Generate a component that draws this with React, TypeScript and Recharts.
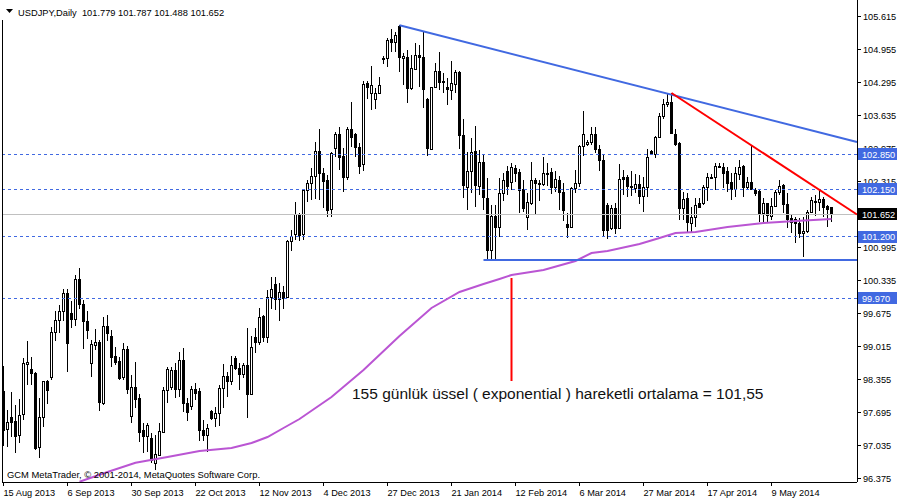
import React from 'react';
import { ComposedChart, Bar, Line, XAxis, YAxis, ReferenceLine } from 'recharts';

const opens = [98.115,97.355,97.595,97.515,97.235,97.655,98.655,98.555,98.475,96.995,97.595,98.315,98.395,99.295,99.535,99.715,100.075,99.675,99.555,100.355,99.855,99.515,98.675,99.035,99.095,97.875,99.415,99.215,98.815,98.715,98.395,98.955,97.615,98.195,97.975,97.335,97.215,97.175,96.675,96.835,97.295,98.135,98.195,98.535,98.155,98.735,97.875,97.815,98.155,98.115,97.335,97.235,97.715,97.575,97.675,98.175,98.415,98.315,98.775,98.575,98.455,98.635,98.055,99.195,99.095,99.615,99.195,99.995,100.255,99.955,100.095,99.995,101.115,101.255,101.635,101.255,102.135,102.275,102.415,102.915,102.475,102.335,101.755,102.975,103.255,102.815,102.395,103.355,103.255,102.995,102.655,104.275,104.075,103.955,104.075,104.775,104.775,105.155,105.095,105.415,104.775,104.795,104.175,104.555,104.835,104.795,103.955,102.955,104.195,104.515,104.315,104.195,104.135,104.255,104.495,103.235,102.195,102.515,102.915,102.215,102.695,101.975,100.935,101.615,101.395,102.075,102.515,102.295,102.575,102.495,102.155,101.595,101.875,102.335,102.275,102.255,102.475,102.495,102.195,102.335,102.095,101.455,101.395,102.175,102.275,103.015,103.055,103.095,103.255,102.955,102.735,101.835,101.375,101.775,101.375,102.395,102.395,102.215,102.175,102.255,102.015,102.195,102.915,102.855,103.195,103.615,103.855,103.895,103.255,103.075,101.775,101.975,101.475,101.595,101.875,101.875,102.195,102.395,102.395,102.615,102.595,102.515,102.295,102.155,102.455,102.615,102.195,102.295,102.135,102.115,101.675,101.875,101.615,101.815,102.095,102.235,101.855,101.575,101.555,101.475,101.275,101.315,101.695,101.915,101.895,101.955,101.815,101.779];
const highs = [98.615,97.735,98.095,97.835,97.955,98.775,99.115,98.795,98.495,97.975,98.315,98.33,99.395,99.715,99.835,100.155,100.155,99.915,100.435,100.575,99.935,99.715,99.135,99.355,99.135,99.595,99.635,99.335,98.995,98.795,99.075,99.015,98.435,98.695,98.055,97.475,97.475,97.275,97.235,97.475,98.195,98.595,98.595,98.675,98.895,98.975,97.975,98.215,98.275,98.175,97.535,97.455,97.73,97.795,98.235,98.655,98.495,98.815,98.815,98.675,98.675,99.375,99.215,99.375,99.775,99.635,100.135,100.395,100.395,100.275,100.215,101.135,101.335,101.895,101.675,102.155,102.335,102.575,103.095,103.355,102.575,102.435,102.895,103.295,103.395,102.975,103.395,103.895,103.275,103.075,104.315,104.315,104.615,104.175,104.395,104.815,105.175,105.355,105.295,105.43,104.875,104.935,104.835,105.075,105.035,105.315,103.97,104.2,104.675,104.895,104.475,104.375,104.715,104.535,104.51,103.555,102.895,103.175,103.415,102.935,102.835,102.375,101.835,101.835,102.375,102.475,102.615,102.675,102.635,102.555,102.335,102.075,102.695,102.375,102.335,102.795,102.675,102.575,102.515,102.415,102.275,101.675,102.195,102.535,103.035,103.715,103.135,103.395,103.395,103.035,102.835,101.875,101.835,101.875,102.655,102.535,102.435,102.515,102.455,102.435,102.395,102.955,102.935,103.215,103.675,103.955,104.055,104.075,103.355,103.095,102.095,102.075,101.795,101.975,101.975,102.235,102.475,102.455,102.675,102.675,102.675,102.595,102.475,102.595,102.735,102.635,102.395,103.035,102.175,102.155,101.975,101.885,101.975,102.135,102.335,102.255,102.075,101.635,101.595,101.575,101.595,101.735,101.995,102.035,102.135,101.995,101.835,101.787];
const lows = [97.015,96.995,97.195,96.875,97.075,97.535,98.235,98.235,96.935,96.775,97.395,97.855,98.335,99.115,99.275,99.515,98.495,99.375,99.415,99.755,98.955,99.155,98.395,98.935,97.715,97.835,99.115,98.595,98.635,98.335,98.335,98.055,97.475,97.775,97.095,96.875,96.895,96.675,96.535,96.815,97.28,97.875,98.135,97.975,97.995,97.695,97.515,97.735,97.935,97.115,97.115,96.895,97.535,97.395,97.415,97.775,97.995,98.235,98.535,98.135,98.375,97.575,98.035,98.875,99.035,99.095,99.075,99.755,99.735,99.515,99.755,99.975,100.915,101.135,101.115,101.135,101.895,101.935,101.955,101.935,101.775,101.595,101.595,102.795,102.535,102.095,102.335,102.995,102.795,102.455,102.515,103.955,103.735,103.755,104.055,104.655,104.595,104.895,104.895,104.495,104.235,103.875,104.135,104.535,104.195,103.775,102.815,102.935,104.175,104.135,104.075,103.835,103.935,104.075,102.955,101.975,101.735,102.075,101.795,102.035,101.735,100.735,100.715,100.735,101.195,101.915,102.035,102.135,102.295,101.675,101.695,101.335,101.835,101.635,101.915,102.215,102.215,102.055,102.095,101.735,101.515,101.175,101.38,102.075,102.195,102.815,103.015,103.035,102.875,102.515,101.195,101.155,101.335,101.255,101.36,102.035,101.995,102.015,102.075,101.855,101.695,101.995,102.835,102.775,103.175,103.555,103.795,103.255,103.015,101.535,101.535,101.295,101.295,101.395,101.79,101.835,101.915,102.37,102.135,102.58,102.175,102.095,101.935,101.995,102.335,101.995,102.135,102.135,102.015,101.495,101.495,101.475,101.535,101.795,102.035,101.675,101.375,101.275,101.075,101.175,100.795,101.275,101.675,101.615,101.715,101.595,101.395,101.488];
const closes = [97.335,97.495,97.495,97.215,97.635,98.675,98.695,98.475,96.975,97.595,98.315,98.135,99.295,99.535,99.715,100.075,99.075,99.555,100.355,99.855,99.515,99.335,99.055,99.095,97.895,99.415,99.275,98.795,98.695,98.375,98.955,98.155,98.195,97.955,97.295,97.215,97.435,96.735,96.855,97.315,98.135,98.555,98.535,98.155,98.735,97.875,97.695,98.155,98.075,97.335,97.235,97.375,97.575,97.675,98.175,98.415,98.315,98.635,98.575,98.455,98.635,98.055,98.995,99.095,99.595,99.195,99.995,100.155,99.955,100.095,99.975,101.115,101.215,101.655,101.235,102.135,102.275,102.415,102.915,102.475,102.315,101.735,102.875,103.255,102.795,102.395,103.355,103.195,102.995,102.615,104.255,104.195,104.235,104.075,104.235,104.755,105.135,105.095,105.235,104.795,104.815,104.175,104.575,104.835,104.795,104.155,102.975,104.195,104.515,104.295,104.295,104.155,104.275,104.495,103.235,102.235,102.515,102.895,102.235,102.695,101.995,100.935,101.615,101.395,102.075,102.335,102.215,102.595,102.475,102.135,101.775,101.895,102.335,102.275,102.255,102.475,102.455,102.195,102.355,102.095,101.735,101.395,102.175,102.275,103.015,103.255,103.095,103.255,102.955,102.735,101.335,101.335,101.775,101.375,102.355,102.355,102.215,102.195,102.255,102.015,102.195,102.795,102.855,103.195,103.615,103.855,103.895,103.275,103.055,101.775,101.955,101.495,101.595,101.835,101.795,102.195,102.395,102.375,102.615,102.595,102.475,102.275,102.155,102.475,102.595,102.195,102.295,102.155,102.075,101.675,101.875,101.635,101.815,102.095,102.215,101.855,101.555,101.495,101.475,101.275,101.315,101.695,101.935,101.895,101.955,101.795,101.755,101.652];

const emaIndex = [19,26,33,41,49,57,62,66,70,74,82,90,99,107,114,120,124,127,135,143,147,151,159,164,168,173,181,190,198,207];
const emaValues = [96.3,96.495,96.68,96.795,96.915,96.975,97.075,97.195,97.375,97.555,97.995,98.535,99.215,99.775,100.095,100.255,100.355,100.435,100.535,100.715,100.875,100.915,101.055,101.175,101.275,101.295,101.395,101.475,101.515,101.555];

const dateTickIndex = [0,16,32,48,64,80,96,112,128,144,160,176,192];
const dateLabels = ['15 Aug 2013','6 Sep 2013','30 Sep 2013','22 Oct 2013','12 Nov 2013','4 Dec 2013','27 Dec 2013','21 Jan 2014','12 Feb 2014','6 Mar 2014','27 Mar 2014','17 Apr 2014','9 May 2014'];
const priceTicks = [105.615,104.955,104.295,103.635,102.975,102.315,101.655,100.995,100.335,99.675,99.015,98.355,97.695,97.035,96.375];
const levelLines = [102.85,102.15,101.2,99.97];
const lastPrice = 101.652;
const tagValues = [102.85,102.15,101.652,101.2,99.97];

const blueTrend = [{ x: 99, y: 105.43 }, { x: 213.375, y: 103.095 }];
const redTrend = [{ x: 167, y: 104.075 }, { x: 213.375, y: 101.645 }];
const supportLine = [{ x: 120, y: 100.735 }, { x: 213.375, y: 100.735 }];
const pointerLine = [{ x: 127, y: 100.375 }, { x: 127, y: 98.315 }];

const titleText = 'USDJPY,Daily  101.779 101.787 101.488 101.652';
const copyrightText = 'GCM MetaTrader, \u00A9 2001-2014, MetaQuotes Software Corp.';
const noteText = '155 günlük üssel ( exponential ) hareketli ortalama = 101,55';

const FONT = '"Liberation Sans", Arial, sans-serif';
const BLUE = '#4169E1';
const DOMAIN_Y: [number, number] = [96.295, 105.935];
const allYTicks = [...priceTicks, ...tagValues];

const data = opens.map((o, i) => {
  const k = emaIndex.indexOf(i);
  return {
    i,
    o,
    h: highs[i],
    l: lows[i],
    c: closes[i],
    range: [lows[i], highs[i]],
    ema: k >= 0 ? emaValues[k] : null,
  };
});

const Candle = (props: any) => {
  const { x, y, width, height, payload } = props;
  if (x == null || payload == null) return null;
  const top = Math.min(y, y + height);
  const hgt = Math.abs(height);
  const { o, h, l, c } = payload;
  const rng = h - l;
  const py = (v: number) => (rng > 0 ? top + ((h - v) / rng) * hgt : top);
  const cx = x + width / 2;
  const bTop = py(Math.max(o, c));
  const bBot = py(Math.min(o, c));
  const bull = c >= o;
  const bh = Math.max(bBot - bTop, 1);
  return (
    <g shapeRendering="crispEdges">
      <line x1={cx} x2={cx} y1={top} y2={top + hgt} stroke="#000" strokeWidth={1} />
      {bull ? (
        <rect x={cx - 1} y={bTop} width={2} height={bh} fill="#fff" stroke="#000" strokeWidth={1} />
      ) : (
        <rect x={cx - 1.5} y={bTop - 0.5} width={3} height={bh + 1} fill="#000" />
      )}
    </g>
  );
};

const XTick = (props: any) => {
  const { x, y, payload } = props;
  const k = dateTickIndex.indexOf(payload.value);
  return (
    <g>
      <line x1={x} x2={x} y1={y} y2={y + 4} stroke="#000" shapeRendering="crispEdges" />
      <text x={x} y={y + 13.5} fontSize={9.2} fontFamily={FONT} fill="#000" textAnchor="start">
        {k >= 0 ? dateLabels[k] : ''}
      </text>
    </g>
  );
};

const YTick = (props: any) => {
  const { x, y, payload, index } = props;
  const v = Number(payload.value);
  const isTag = index >= priceTicks.length;
  if (isTag) {
    const isLast = Math.abs(v - lastPrice) < 0.0005;
    return (
      <g>
        <rect x={x + 1} y={y - 6} width={39} height={12} fill={isLast ? '#000' : BLUE} shapeRendering="crispEdges" />
        <text x={x + 5} y={y + 3.5} fontSize={9.2} fontFamily={FONT} fill="#fff">
          {v.toFixed(3)}
        </text>
      </g>
    );
  }
  return (
    <g>
      <line x1={x} x2={x + 4} y1={y} y2={y} stroke="#000" shapeRendering="crispEdges" />
      <text x={x + 6} y={y + 3.5} fontSize={9.2} fontFamily={FONT} fill="#000" textAnchor="start">
        {v.toFixed(3)}
      </text>
    </g>
  );
};

export default function App() {
  return (
    <div style={{ position: 'absolute', left: 0, top: 0, width: 900, height: 500, background: '#fff' }}>
      <ComposedChart width={900} height={500} data={data} margin={{ top: 0, right: 0, bottom: 0, left: 2 }}>
        <XAxis
          dataKey="i"
          type="number"
          domain={[-0.375, 213.375]}
          allowDataOverflow
          ticks={dateTickIndex}
          interval={0}
          height={18}
          tickSize={0}
          tickMargin={0}
          tickLine={false}
          axisLine={{ stroke: '#000', shapeRendering: 'crispEdges' }}
          tick={<XTick />}
        />
        <YAxis
          orientation="right"
          type="number"
          domain={DOMAIN_Y}
          allowDataOverflow
          ticks={allYTicks}
          interval={0}
          width={43}
          tickSize={0}
          tickMargin={0}
          tickLine={false}
          axisLine={{ stroke: '#000', shapeRendering: 'crispEdges' }}
          tick={<YTick />}
        />
        <ReferenceLine y={lastPrice} stroke="#C0C0C0" strokeWidth={1} shapeRendering="crispEdges" />
        {levelLines.map((v) => (
          <ReferenceLine key={v} y={v} stroke={BLUE} strokeWidth={1} strokeDasharray="3 3" shapeRendering="crispEdges" />
        ))}
        <Bar dataKey="range" barSize={3} shape={<Candle />} isAnimationActive={false} />
        <Line dataKey="ema" type="linear" stroke="#BA55D3" strokeWidth={2} dot={false} connectNulls isAnimationActive={false} />
        <ReferenceLine segment={supportLine} stroke={BLUE} strokeWidth={2} ifOverflow="visible" />
        <ReferenceLine segment={blueTrend} stroke={BLUE} strokeWidth={2} ifOverflow="visible" />
        <ReferenceLine segment={redTrend} stroke="#FF0000" strokeWidth={2} ifOverflow="visible" />
        <ReferenceLine segment={pointerLine} stroke="#FF0000" strokeWidth={2} ifOverflow="visible" />
      </ComposedChart>
      <svg width={900} height={500} style={{ position: 'absolute', left: 0, top: 0, pointerEvents: 'none' }}>
        <line x1={2.5} x2={2.5} y1={20} y2={482} stroke="#000" strokeWidth={1} />
        <polygon points="6,9 13,9 9.5,13" fill="#000" />
        <text x={18} y={15.5} fontSize={9.3} fontFamily={FONT} fill="#000" style={{ whiteSpace: 'pre' }}>{titleText}</text>
        <text x={7} y={478} fontSize={9.4} fontFamily={FONT} fill="#000">{copyrightText}</text>
        <text x={352} y={399} fontSize={15.5} fontFamily={FONT} fill="#111">{noteText}</text>
      </svg>
    </div>
  );
}
